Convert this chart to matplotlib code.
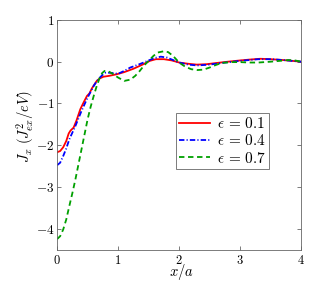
import matplotlib
matplotlib.use('Agg')
import matplotlib.pyplot as plt

plt.rcParams['mathtext.fontset'] = 'cm'
plt.rcParams['font.family'] = 'serif'
plt.rcParams['font.serif'] = ['DejaVu Serif']

# values
x_01 = [0.0, 0.05, 0.1, 0.15, 0.19, 0.22, 0.27, 0.32, 0.38, 0.44, 0.49, 0.53, 0.57,
        0.61, 0.65, 0.7, 0.76, 0.85, 0.98, 1.1, 1.25, 1.4, 1.52, 1.62, 1.75, 1.88,
        2.0, 2.15, 2.29, 2.45, 2.62, 2.8, 3.0, 3.15, 3.33, 3.5, 3.7, 3.85, 4.0]
y_01 = [-2.17, -2.14, -2.05, -1.9, -1.72, -1.65, -1.58, -1.4, -1.14, -0.96, -0.82, -0.76,
        -0.64, -0.55, -0.46, -0.4, -0.36, -0.34, -0.3, -0.25, -0.17, -0.07, 0.02, 0.06,
        0.06, 0.03, -0.02, -0.05, -0.07, -0.06, -0.03, 0.0, 0.03, 0.05, 0.07, 0.06,
        0.04, 0.02, 0.0]

x_04 = [0.0, 0.05, 0.1, 0.15, 0.2, 0.25, 0.3, 0.35, 0.4, 0.45, 0.5, 0.55, 0.6, 0.65,
        0.7, 0.75, 0.8, 0.9, 1.0, 1.1, 1.2, 1.35, 1.5, 1.6, 1.7, 1.8, 1.9, 2.0, 2.15,
        2.3, 2.5, 2.7, 3.0, 3.15, 3.3, 3.5, 3.7, 3.85, 4.0]
y_04 = [-2.48, -2.42, -2.26, -2.08, -1.86, -1.7, -1.54, -1.36, -1.18, -1.02, -0.86,
        -0.72, -0.58, -0.47, -0.38, -0.31, -0.26, -0.27, -0.29, -0.22, -0.14, -0.06,
        0.03, 0.09, 0.12, 0.1, 0.04, -0.02, -0.07, -0.09, -0.07, -0.03, 0.02, 0.04,
        0.06, 0.06, 0.04, 0.02, 0.0]

x_07 = [0.0, 0.05, 0.1, 0.15, 0.2, 0.25, 0.3, 0.35, 0.4, 0.45, 0.5, 0.55, 0.6, 0.65,
        0.7, 0.74, 0.78, 0.84, 0.9, 1.0, 1.1, 1.2, 1.28, 1.35, 1.42, 1.5, 1.58, 1.65,
        1.75, 1.82, 1.9, 2.0, 2.1, 2.2, 2.3, 2.4, 2.5, 2.6, 2.7, 2.85, 3.0, 3.15,
        3.3, 3.5, 3.65, 3.8, 3.9, 4.0]
y_07 = [-4.25, -4.18, -4.02, -3.78, -3.46, -3.15, -2.82, -2.46, -2.1, -1.74, -1.38,
        -1.08, -0.82, -0.58, -0.38, -0.27, -0.22, -0.23, -0.28, -0.38, -0.46, -0.43,
        -0.34, -0.23, -0.1, 0.02, 0.14, 0.22, 0.25, 0.23, 0.14, -0.02, -0.12, -0.18,
        -0.2, -0.19, -0.14, -0.08, -0.03, -0.01, -0.01, -0.02, -0.02, 0.0, 0.02,
        0.04, 0.03, 0.0]

labels = [r'$\epsilon\,=\,0.1$', r'$\epsilon\,=\,0.4$', r'$\epsilon\,=\,0.7$']
xticks = [0, 1, 2, 3, 4]
yticks = [-4, -3, -2, -1, 0, 1]

fig = plt.figure(figsize=(3.32, 2.81), dpi=100)
ax = fig.add_axes([0.172, 0.112, 0.735, 0.817])

ax.plot(x_01, y_01, '-', color='#ff0000', lw=1.3, label=labels[0])
ax.plot(x_04, y_04, '-.', color='#0000ff', lw=1.3, label=labels[1], dashes=(3, 1.2, 0.6, 1.2))
ax.plot(x_07, y_07, '--', color='#00a000', lw=1.3, label=labels[2], dashes=(3, 2))

ax.set_xlim(0, 4)
ax.set_ylim(-4.5, 1)
ax.set_xticks(xticks)
ax.set_yticks(yticks)
ax.set_xticklabels(['$%d$' % t for t in xticks], fontsize=9)
ax.set_yticklabels(['$%d$' % t for t in yticks], fontsize=9.5)
ax.tick_params(direction='in', top=True, right=True, length=3, width=0.6,
               color='#666666')
ax.tick_params(axis='x', pad=3)
ax.tick_params(axis='y', pad=2)
for s in ax.spines.values():
    s.set_color('#666666')
    s.set_linewidth(0.6)

ax.set_xlabel(r'$x/a$', fontsize=10.5)
ax.xaxis.set_label_coords(0.51, -0.053)
ax.set_ylabel(r'$J_x\ (J_{ex}^2/eV)$', fontsize=10.5)
ax.yaxis.set_label_coords(-0.085, 0.535)

leg = ax.legend(loc='upper left', bbox_to_anchor=(0.487, 0.595), fontsize=11,
                fancybox=False, framealpha=1, edgecolor='#666666',
                handlelength=2.0, handletextpad=0.5, borderpad=0.2,
                labelspacing=0.15, borderaxespad=0)
leg.get_frame().set_linewidth(0.6)

fig.savefig('out.png', dpi=100)
